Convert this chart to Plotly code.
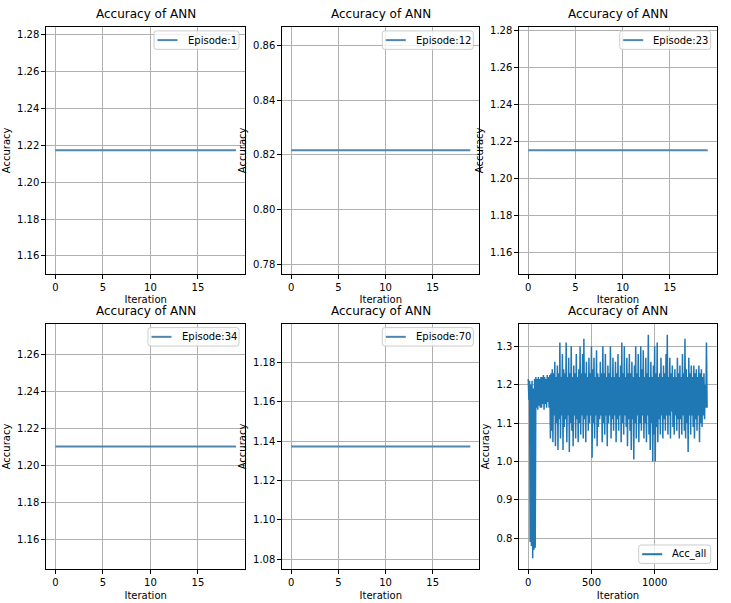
import plotly.graph_objects as go

# episode values (constant over the 20 iterations of each episode)
iterations = list(range(20))
episode_names = ["Episode:1", "Episode:12", "Episode:23", "Episode:34", "Episode:70"]
episode_acc = [1.2173, 0.8217, 1.2151, 1.2104, 1.1373]

# Acc_all, read every 5 iterations
acc_all_x = list(range(0, 1420, 5))
acc_all = [
    1.215, 1.16, 1.21, 0.79, 1.20, 0.78, 1.21, 0.748, 1.19, 0.77, 1.215, 0.775, 1.22, 1.14, 1.215, 1.135, 1.22, 1.145, 1.215, 1.14,
    1.22, 1.14, 1.22, 1.15, 1.225, 1.135, 1.22, 1.15, 1.215, 1.14, 1.225, 1.155, 1.22, 1.14, 1.225, 1.06, 1.23, 1.08, 1.24, 1.05,
    1.23, 1.12, 1.26, 1.04, 1.22, 1.10, 1.25, 1.03, 1.23, 1.11, 1.31, 1.06, 1.22, 1.12, 1.28, 1.03, 1.24, 1.09, 1.23, 1.11,
    1.31, 1.05, 1.22, 1.12, 1.27, 1.025, 1.23, 1.10, 1.30, 1.08, 1.22, 1.04, 1.25, 1.12, 1.23, 1.06, 1.28, 1.11, 1.22, 1.05,
    1.24, 1.10, 1.30, 1.07, 1.23, 1.12, 1.28, 1.06, 1.32, 1.11, 1.23, 1.05, 1.26, 1.12, 1.22, 1.08, 1.27, 1.10, 1.23, 1.12,
    1.30, 1.01, 1.24, 1.10, 1.27, 1.06, 1.22, 1.12, 1.29, 1.04, 1.23, 1.09, 1.22, 1.11, 1.26, 1.12, 1.23, 1.05, 1.30, 1.10,
    1.23, 1.07, 1.28, 1.12, 1.22, 1.04, 1.25, 1.10, 1.23, 1.12, 1.30, 1.06, 1.22, 1.11, 1.27, 1.08, 1.22, 1.12, 1.26, 1.05,
    1.23, 1.11, 1.28, 1.08, 1.22, 1.12, 1.25, 1.05, 1.31, 1.10, 1.23, 1.07, 1.30, 1.12, 1.22, 1.09, 1.27, 1.04, 1.23, 1.11,
    1.28, 1.08, 1.23, 1.03, 1.26, 1.11, 1.22, 1.005, 1.25, 1.10, 1.30, 1.06, 1.23, 1.12, 1.28, 1.05, 1.22, 1.10, 1.30, 1.08,
    1.24, 1.12, 1.29, 1.06, 1.22, 1.10, 1.27, 1.05, 1.23, 1.12, 1.33, 1.07, 1.22, 1.03, 1.26, 1.10, 1.22, 1.00, 1.25, 1.07,
    1.30, 1.00, 1.23, 1.09, 1.31, 1.05, 1.22, 1.11, 1.23, 1.07, 1.27, 1.12, 1.22, 1.06, 1.25, 1.11, 1.23, 1.08, 1.28, 1.12,
    1.33, 1.07, 1.22, 1.12, 1.27, 1.06, 1.23, 1.13, 1.25, 1.09, 1.22, 1.07, 1.24, 1.12, 1.22, 1.08, 1.27, 1.11, 1.23, 1.06,
    1.25, 1.11, 1.22, 1.07, 1.28, 1.12, 1.23, 1.08, 1.32, 1.06, 1.24, 1.10, 1.22, 1.025, 1.27, 1.12, 1.23, 1.07, 1.25, 1.12,
    1.22, 1.09, 1.25, 1.06, 1.23, 1.11, 1.24, 1.08, 1.22, 1.12, 1.25, 1.05, 1.23, 1.10, 1.24, 1.09, 1.22, 1.12, 1.23, 1.11,
    1.20, 1.14, 1.31, 1.14,
]

W, H = 731, 603
FONT = "DejaVu Sans"
EP_COLOR = "#4f87ad"
ALL_COLOR = "#1f77b4"

# plot areas in pixels: (left, right), (top, bottom)
cols = [(46.3, 245.0), (282.3, 479.3), (519.3, 716.7)]
rows = [(25.0, 272.7), (322.7, 569.3)]
legend_w = [85, 91, 91, 91, 91, 72]


def px(x):
    return x / W


def py(y):
    return 1 - y / H


def round_box(x0, y0, x1, y1, r=2.5):
    # rounded rectangle path in paper coords, from pixel corners
    pts = [
        f"M{px(x0 + r)},{py(y0)}", f"L{px(x1 - r)},{py(y0)}",
        f"Q{px(x1)},{py(y0)} {px(x1)},{py(y0 + r)}", f"L{px(x1)},{py(y1 - r)}",
        f"Q{px(x1)},{py(y1)} {px(x1 - r)},{py(y1)}", f"L{px(x0 + r)},{py(y1)}",
        f"Q{px(x0)},{py(y1)} {px(x0)},{py(y1 - r)}", f"L{px(x0)},{py(y0 + r)}",
        f"Q{px(x0)},{py(y0)} {px(x0 + r)},{py(y0)}", "Z",
    ]
    return " ".join(pts)


fig = go.Figure()

axis_common = dict(
    showline=True, mirror=True, linecolor="black", linewidth=1,
    showgrid=True, gridcolor="#b0b0b0", gridwidth=0.8,
    zeroline=False, ticks="outside", ticklen=4, tickcolor="black",
    tickfont=dict(family=FONT, size=10, color="black"),
)

annotations = []
shapes = []
for i in range(6):
    r, c = divmod(i, 3)
    left, right = cols[c]
    top, bottom = rows[r]
    n = "" if i == 0 else str(i + 1)
    xa, ya = "x" + n, "y" + n

    if i < 5:
        v = episode_acc[i]
        name, color = episode_names[i], EP_COLOR
        fig.add_trace(go.Scatter(
            x=iterations, y=[v] * len(iterations), mode="lines",
            name=name, line=dict(color=color, width=2),
            xaxis=xa, yaxis=ya, showlegend=False,
        ))
        xr = [-0.95, 19.95]
        yr = [v * 0.945, v * 1.055]
        xdt, ydt, yfmt = 5, 0.02, ".2f"
    else:
        name, color = "Acc_all", ALL_COLOR
        fig.add_trace(go.Scatter(
            x=acc_all_x, y=acc_all, mode="lines", name=name,
            line=dict(color=color, width=1.5),
            xaxis=xa, yaxis=ya, showlegend=False,
        ))
        xr = [-71, 1491]
        lo, hi = min(acc_all), max(acc_all)
        m = (hi - lo) * 0.05
        yr = [lo - m, hi + m]
        xdt, ydt, yfmt = 500, 0.1, ".1f"

    fig.layout["xaxis" + n] = dict(
        axis_common, domain=[px(left), px(right)], anchor=ya, range=xr,
        tick0=0, dtick=xdt,
        title=dict(text="Iteration", font=dict(family=FONT, size=10, color="black"), standoff=4),
    )
    fig.layout["yaxis" + n] = dict(
        axis_common, domain=[py(bottom), py(top)], anchor=xa, range=yr,
        tick0=0, dtick=ydt, tickformat=yfmt,
        title=dict(text="Accuracy", font=dict(family=FONT, size=10, color="black"), standoff=4),
    )

    # legend box drawn like matplotlib's
    bx1 = right - 6
    bx0 = bx1 - legend_w[i]
    if i < 5:
        by0 = top + 4
    else:
        by0 = bottom - 6 - 18.5
    by1 = by0 + 18.5
    ym = (by0 + by1) / 2
    shapes.append(dict(
        type="path", path=round_box(bx0, by0, bx1, by1), xref="paper", yref="paper",
        fillcolor="rgba(255,255,255,0.8)", line=dict(color="#cccccc", width=1),
    ))
    shapes.append(dict(
        type="line", xref="paper", yref="paper",
        x0=px(bx0 + 3.5), x1=px(bx0 + 23.5), y0=py(ym), y1=py(ym),
        line=dict(color=color, width=2),
    ))
    annotations.append(dict(
        text=name, x=px(bx0 + 31.5), y=py(ym), xref="paper", yref="paper",
        xanchor="left", yanchor="middle", showarrow=False,
        font=dict(family=FONT, size=10, color="black"),
    ))

    annotations.append(dict(
        text="Accuracy of ANN", x=px((left + right) / 2), y=py(top - 4),
        xref="paper", yref="paper", xanchor="center", yanchor="bottom",
        showarrow=False, font=dict(family=FONT, size=12, color="black"),
    ))

fig.update_layout(
    width=W, height=H, margin=dict(l=0, r=0, t=0, b=0),
    paper_bgcolor="white", plot_bgcolor="white",
    annotations=annotations, shapes=shapes, showlegend=False,
)

fig.write_html("out.html", config={"displayModeBar": False},
               post_script="document.body.style.margin='0';")
